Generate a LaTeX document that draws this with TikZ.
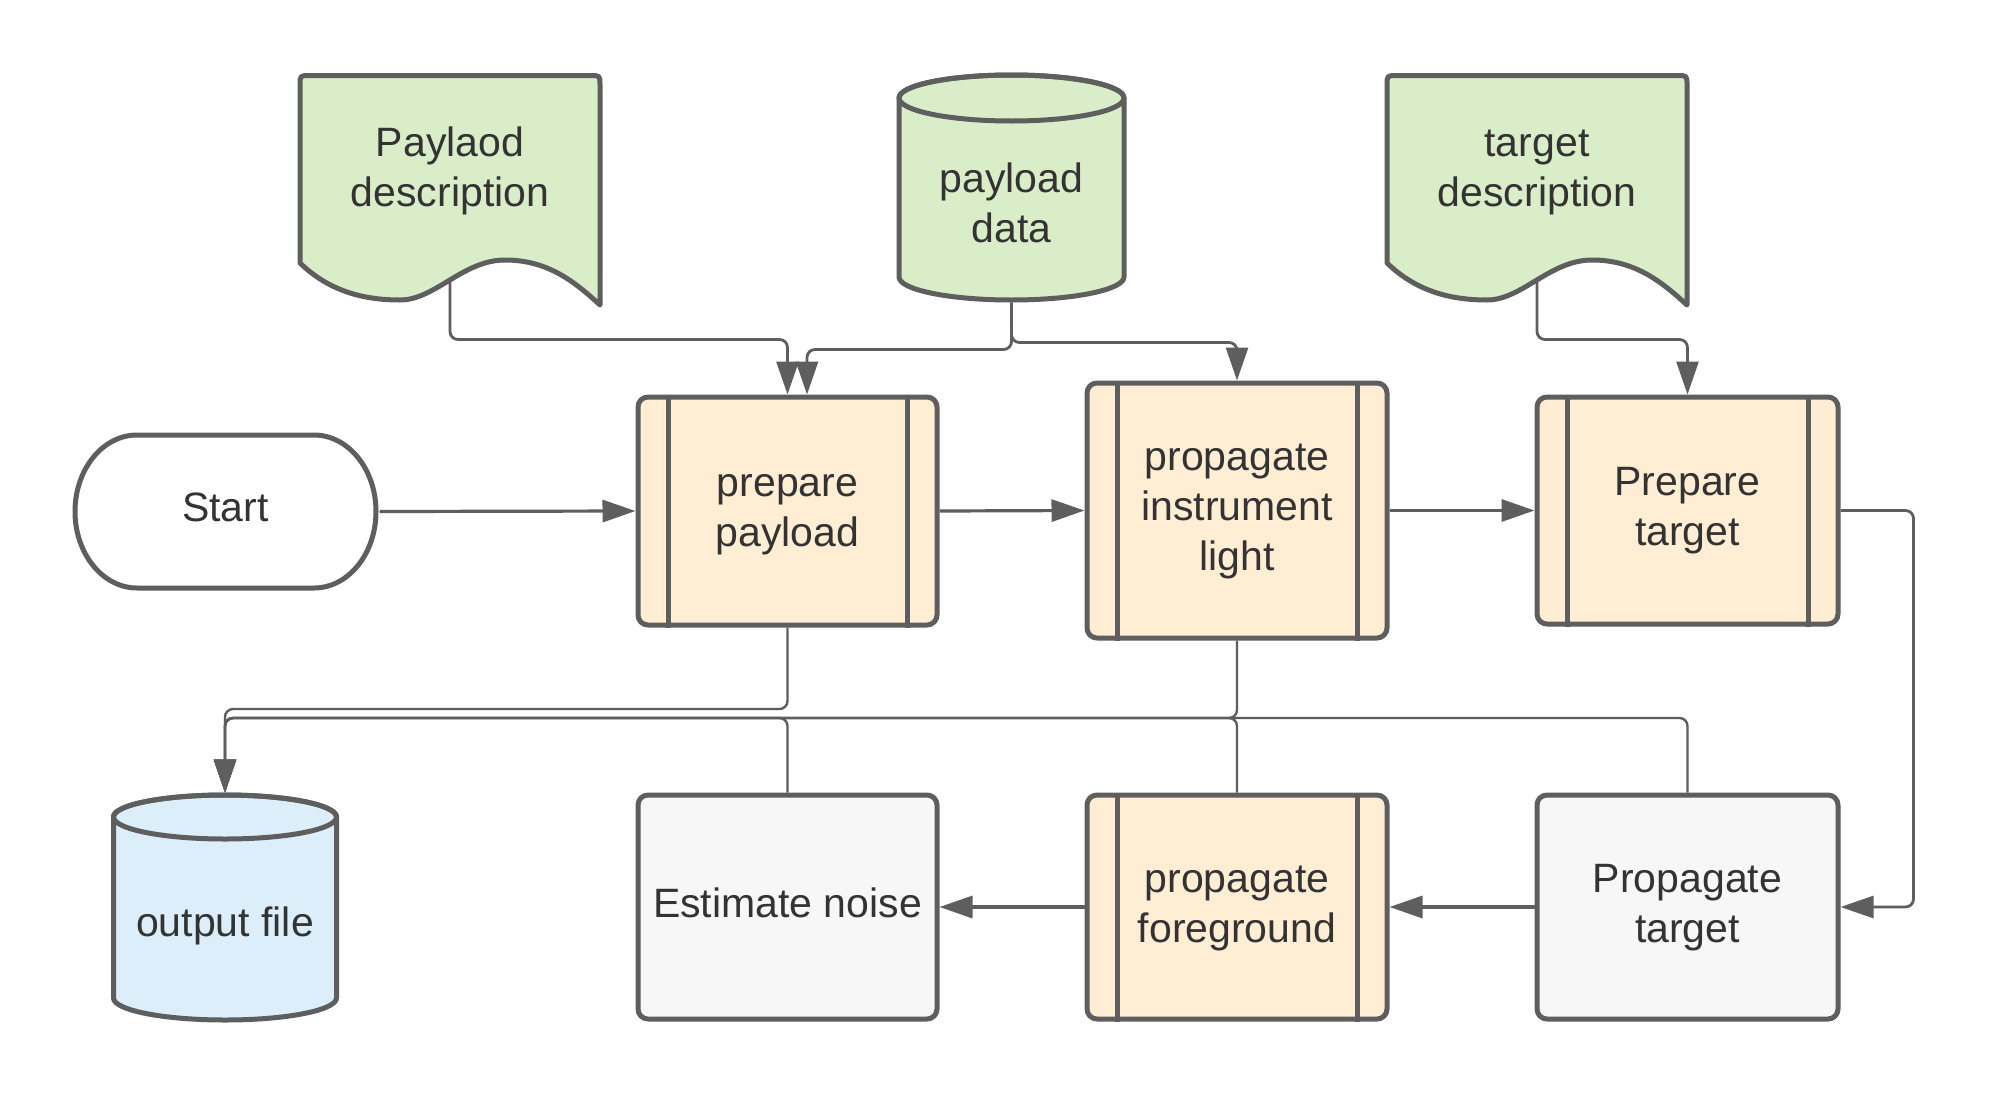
\documentclass[tikz,border=0pt]{standalone}
\usepackage{fontspec}
\setmainfont{Liberation Sans}
\usetikzlibrary{arrows.meta,calc}
\definecolor{edge}{RGB}{94,94,94}
\definecolor{conncol}{RGB}{94,94,94}
\definecolor{txt}{RGB}{51,51,51}
\definecolor{greenfill}{RGB}{217,237,200}
\definecolor{orangefill}{RGB}{255,237,212}
\definecolor{bluefill}{RGB}{219,238,250}
\definecolor{grayfill}{RGB}{247,247,247}
\tikzset{
  lbl/.style={font=\fontsize{41}{50}\selectfont, text=txt, align=center, inner sep=0pt},
  shapeline/.style={draw=edge, line width=5pt, line join=round},
  boxnode/.style={shapeline, rounded corners=10pt, minimum width=300pt, inner sep=0pt, lbl},
  procbox/.style={boxnode, fill=orangefill},
  plainbox/.style={boxnode, fill=grayfill},
  innerline/.style={draw=edge, line width=5pt},
  conn/.style={draw=conncol, line width=2.8pt, rounded corners=8pt, -{Triangle[length=33pt,width=22pt]}},
  busline/.style={conn, line width=2.4pt},
  flow/.style={conn, line width=3.2pt},
}
\begin{document}
\begin{tikzpicture}[x=1pt,y=-1pt]
\useasboundingbox (0,0) rectangle (1991,1095);
\fill[white] (0,0) rectangle (1991,1095);

% ---- Start terminator
\path[shapeline, fill=white] (137,435) -- (314,435)
  arc[start angle=90,end angle=-90,x radius=62pt,y radius=76.5pt] -- (137,588)
  arc[start angle=270,end angle=90,x radius=62pt,y radius=76.5pt] -- cycle;
\node[lbl, minimum width=303pt, minimum height=153pt, outer sep=2.5pt] (start) at (225.5,511.5) {\strut Start};

% ---- Payload description document
\begin{scope}[shift={(300,0)}]
\path[shapeline, fill=greenfill] (0,263) -- (0,85) .. controls (0,75.5) .. (10,75.5) -- (290,75.5)
  .. controls (300,75.5) .. (300,85) -- (300,305)
  .. controls (275,282) and (248,260) .. (205,260)
  .. controls (163,260) and (135,300) .. (100,300)
  .. controls (65,300) and (30,292) .. (0,263) -- cycle;
\end{scope}
\node[lbl] (pdoc) at (450,171) {\strut Paylaod\\\strut description};
\coordinate (pdocb) at (450,282);

% ---- Target description document
\begin{scope}[shift={(1387,0)}]
\path[shapeline, fill=greenfill] (0,263) -- (0,85) .. controls (0,75.5) .. (10,75.5) -- (290,75.5)
  .. controls (300,75.5) .. (300,85) -- (300,305)
  .. controls (275,282) and (248,260) .. (205,260)
  .. controls (163,260) and (135,300) .. (100,300)
  .. controls (65,300) and (30,292) .. (0,263) -- cycle;
\end{scope}
\node[lbl] (tdoc) at (1537,171) {\strut target\\\strut description};
\coordinate (tdocb) at (1537,282);

% ---- payload data cylinder
\path[shapeline, fill=greenfill] (899,98) -- (899,277)
  arc[start angle=180,end angle=360,x radius=112.5pt,y radius=23pt] -- (1124,98)
  arc[start angle=0,end angle=180,x radius=112.5pt,y radius=23pt] -- cycle;
\draw[shapeline] (1011.5,98) ellipse[x radius=112.5pt,y radius=23pt];
\node[lbl] (pdata) at (1011.5,207.5) {\strut payload\\\strut data};
\coordinate (pdatab) at (1011.5,302.5);

% ---- output file cylinder
\path[shapeline, fill=bluefill] (113.5,817) -- (113.5,998)
  arc[start angle=180,end angle=360,x radius=111.5pt,y radius=22pt] -- (336.5,817)
  arc[start angle=0,end angle=180,x radius=111.5pt,y radius=22pt] -- cycle;
\draw[shapeline] (225,817) ellipse[x radius=111.5pt,y radius=22pt];
\node[lbl] (outf) at (225,926) {\strut output file};
\coordinate (outn) at (225,792.5);

% ---- process boxes
\node[procbox, minimum width=299pt, minimum height=228pt] (prep) at (787.5,511) {\strut prepare\\\strut payload};
\node[procbox, minimum height=255pt] (prop) at (1237,510.5) {\strut propagate\\\strut instrument\\\strut light};
\node[procbox, minimum width=301pt, minimum height=227pt] (ptgt) at (1687.5,510.5) {\strut Prepare\\\strut target};
\node[plainbox, minimum width=299pt, minimum height=224pt] (noise) at (787.5,907) {\strut Estimate noise};
\node[procbox, minimum height=224pt] (pfg) at (1237,907) {\strut propagate\\\strut foreground};
\node[plainbox, minimum width=301pt, minimum height=224pt] (proptgt) at (1687.5,907) {\strut Propagate\\\strut target};

\foreach \b in {prep,prop,ptgt,pfg}{
  \draw[innerline] ([xshift=32.5pt]\b.north west) -- ([xshift=32.5pt]\b.south west);
  \draw[innerline] ([xshift=-32.5pt]\b.north east) -- ([xshift=-32.5pt]\b.south east);
}

% ---- connectors
\coordinate (busA) at (225,709);
\coordinate (busB) at (225,718);

\draw[conn] (pdocb) |- ([yshift=55pt]prep.north) -- (prep.north);
\draw[conn] (pdatab) |- ([xshift=19.5pt,yshift=45pt]prep.north) -- ([xshift=19.5pt]prep.north);
\draw[conn] (pdatab) |- ([yshift=38pt]prop.north) -- (prop.north);
\draw[conn] (tdocb) |- ([yshift=55pt]ptgt.north) -- (ptgt.north);

\draw[flow] (start.east) -- (prep.west);
\draw[flow] (prep.east) -- (prop.west);
\draw[flow] (prop.east) -- (ptgt.west);
\draw[conn] (ptgt.east) -- ++(73,0) |- (proptgt.east);
\draw[flow] (proptgt.west) -- (pfg.east);
\draw[flow] (pfg.west) -- (noise.east);

\draw[busline] (prep.south) |- (busA) -- (outn);
\draw[busline] (prop.south) |- (busB) -- (outn);
\draw[busline] (noise.north) |- (busB) -- (outn);
\draw[busline] (pfg.north) |- (busB) -- (outn);
\draw[busline] (proptgt.north) |- (busB) -- (outn);
\end{tikzpicture}
\end{document}
